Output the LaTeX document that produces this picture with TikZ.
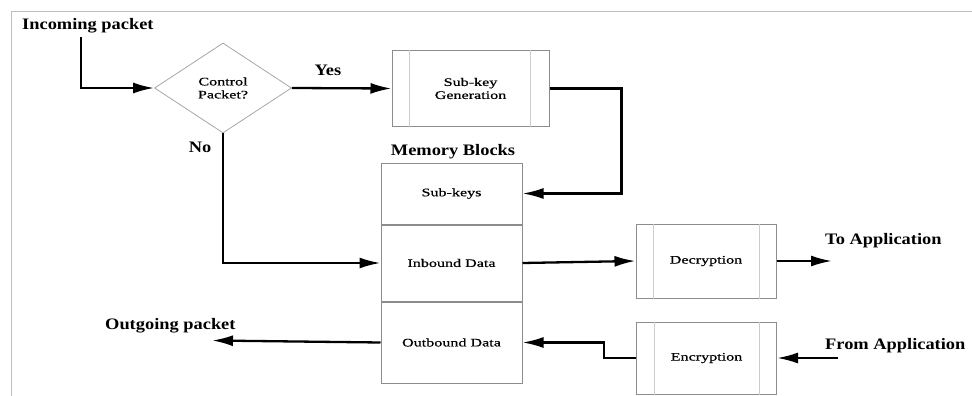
\documentclass[tikz,border=0pt]{standalone}
\usepackage{fontspec}
\setmainfont{Liberation Serif}
\newfontfamily\labelfont[FakeStretch=1.15]{Liberation Serif Bold}
\newfontfamily\boxfont[FakeStretch=1.4, FakeBold=0.6]{Liberation Serif}
\usetikzlibrary{positioning, shapes.geometric, arrows.meta}

\begin{document}
\begin{tikzpicture}[x=1pt, y=-1pt]
    % Styles
    \tikzstyle{label} = [font=\labelfont\fontsize{16}{18}\selectfont, inner sep=0pt]
    \tikzstyle{block} = [rectangle, draw=black!45, line width=1pt, font=\boxfont\fontsize{11.5}{13}\selectfont, align=center, inner sep=0pt]
    \tikzstyle{memory} = [block, minimum width=141pt]
    \tikzstyle{process} = [block, minimum width=140pt, minimum height=74pt]
    \tikzstyle{decision} = [diamond, draw=black!35, line width=0.8pt, font=\boxfont\fontsize{11.5}{13}\selectfont, align=center, inner sep=0pt, minimum width=137pt, minimum height=90pt]
    \tikzstyle{edge} = [-{Latex[length=21pt, width=11pt]}, line width=2.3pt]
    \tikzstyle{inner line} = [draw=black!20, line width=1pt]

    \useasboundingbox (0,0) rectangle (972,396);
    \draw[black!25, line width=1pt] (11,396) -- (11,12) -- (972,12);

    % Nodes
    \node[label, anchor=west] (incoming) at (22,26) {Incoming packet};
    \coordinate (in) at (81,37);
    \node[decision] (ctrl) at (223,88) {Control\\Packet?};
    \node[process, minimum width=157pt, minimum height=75pt] (subgen) at (470.5,88.5) {Sub-key\\Generation};
    \node[label] (yes) at (328,70) {Yes};
    \node[label] (no) at (200,147) {No};

    \node[label] (memlabel) at (453,152) {Memory Blocks};
    \node[memory, minimum height=61pt] (subkeys) at (451.5,193.5) {Sub-keys};
    \node[memory, minimum height=76pt, below=0pt of subkeys] (inbound) {Inbound Data};
    \node[memory, minimum height=81pt, below=0pt of inbound] (outbound) {Outbound Data};

    \node[process] (dec) at (706,261) {Decryption};
    \node[process, minimum height=72pt] (enc) at (706.5,358) {Encryption};

    \node[label, anchor=west] (toapp) at (825,241) {To Application};
    \coordinate (toend) at (832,261);
    \node[label, anchor=west] (fromapp) at (825,346) {From Application};
    \coordinate (fromstart) at (838,358);
    \node[label, anchor=west] (outgoing) at (105,326) {Outgoing packet};
    \coordinate (outend) at (212,340.5);

    % Inner lines of the process boxes
    \foreach \n/\l/\r in {subgen/18/19, dec/18/17, enc/18/18} {
        \draw[inner line] ([xshift=\l pt]\n.north west) -- ([xshift=\l pt]\n.south west);
        \draw[inner line] ([xshift=-\r pt]\n.north east) -- ([xshift=-\r pt]\n.south east);
    }

    % Edges
    \draw[edge] (in) |- (ctrl.west);
    \draw[edge] (ctrl.east) -- (subgen.west);
    \draw[edge] (subgen.east) -- ++(72,0) |- (subkeys.east);
    \draw[edge] (ctrl.south) |- (inbound.west);
    \draw[edge] (inbound.east) -- (dec.west);
    \draw[edge] (dec.east) -- (toend);
    \draw[edge] (fromstart) -- (enc.east);
    \draw[edge] (enc.west) -- ++(-32,0) |- (outbound.east);
    \draw[edge] (outbound.west) -- (outend);
\end{tikzpicture}
\end{document}
